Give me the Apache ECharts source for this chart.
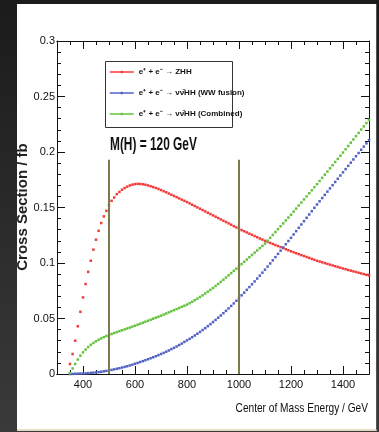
<!DOCTYPE html>
<html>
<head>
<meta charset="utf-8">
<script src="https://cdn.jsdelivr.net/npm/echarts@6/dist/echarts.min.js"></script>
<style>
  html, body { margin: 0; padding: 0; width: 379px; height: 432px; overflow: hidden;
    background: linear-gradient(to bottom, #1b1b1b, #3a3a3a); }
  #card { position: absolute; left: 17px; top: 4px; width: 359px; height: 425px;
    background: #fff; border-right: 1px solid #555; border-bottom: 2px solid #e6dcc4; }
  #chart { position: absolute; left: 0; top: 0; width: 379px; height: 432px; }
</style>
</head>
<body>
<div id="card"></div>
<div id="chart"></div>
<script>
const energy = [
  350, 360, 370, 380, 390, 400, 410, 420, 430, 440,
  450, 460, 470, 480, 490, 500, 510, 520, 530, 540,
  550, 560, 570, 580, 590, 600, 610, 620, 630, 640,
  650, 660, 670, 680, 690, 700, 710, 720, 730, 740,
  750, 760, 770, 780, 790, 800, 810, 820, 830, 840,
  850, 860, 870, 880, 890, 900, 910, 920, 930, 940,
  950, 960, 970, 980, 990, 1000, 1010, 1020, 1030, 1040,
  1050, 1060, 1070, 1080, 1090, 1100, 1110, 1120, 1130, 1140,
  1150, 1160, 1170, 1180, 1190, 1200, 1210, 1220, 1230, 1240,
  1250, 1260, 1270, 1280, 1290, 1300, 1310, 1320, 1330, 1340,
  1350, 1360, 1370, 1380, 1390, 1400, 1410, 1420, 1430, 1440,
  1450, 1460, 1470, 1480, 1490, 1500
]

// e+e- -> ZHH
const zhh = [
  .009, .018, .030, .043, .056, .069, .081, .092, .102, .112,
  .121, .129, .136, .142, .147, .152, .156, .159, .162, .164,
  .166, .1675, .1688, .1698, .1706, .1711, .1713, .1712, .1709, .1705,
  .1699, .1692, .1684, .1676, .1667, .1657, .1647, .1637, .1626, .1615,
  .1604, .1593, .1582, .1571, .1560, .1549, .1537, .1525, .1513, .1501,
  .1489, .1477, .1465, .1453, .1441, .1429, .1417, .1405, .1393, .1381,
  .1369, .1357, .1345, .1332, .1320, .1307, .1296, .1286, .1275, .1264,
  .1254, .1243, .1232, .1221, .1211, .1200, .1191, .1181, .1172, .1162,
  .1153, .1143, .1134, .1124, .1115, .1105, .1097, .1088, .1080, .1071,
  .1063, .1054, .1046, .1037, .1029, .1020, .1013, .1006, .0999, .0992,
  .0985, .0978, .0971, .0964, .0957, .0950, .0944, .0937, .0931, .0925,
  .0919, .0912, .0906, .0900, .0893, .0887
]

// e+e- -> nu nubar HH (WW fusion)
const wwFusion = [
  .0000, .0001, .0002, .0003, .0004, .0005, .0006, .0008, .0010, .0012,
  .0014, .0017, .0020, .0024, .0028, .0032, .0037, .0042, .0047, .0052,
  .0058, .0064, .0070, .0077, .0084, .0092, .0100, .0108, .0116, .0124,
  .0133, .0142, .0151, .0160, .0170, .0180, .0190, .0201, .0212, .0224,
  .0236, .0248, .0261, .0274, .0289, .0303, .0317, .0332, .0347, .0363,
  .0379, .0396, .0413, .0431, .0449, .0468, .0487, .0507, .0527, .0548,
  .0569, .0591, .0613, .0636, .0660, .0685, .0709, .0733, .0758, .0783,
  .0808, .0834, .0860, .0886, .0913, .0940, .0968, .0996, .1024, .1053,
  .1082, .1111, .1140, .1169, .1198, .1227, .1257, .1287, .1317, .1347,
  .1377, .1407, .1437, .1467, .1497, .1527, .1556, .1585, .1614, .1643,
  .1672, .1701, .1730, .1759, .1788, .1817, .1846, .1875, .1904, .1933,
  .1962, .1991, .2020, .2049, .2078, .2107
]

// e+e- -> nu nubar HH (combined)
const combined = [
  .001, .005, .009, .013, .0165, .0195, .022, .0243, .0263, .028,
  .0295, .0309, .0321, .0332, .0342, .0351, .0360, .0369, .0377, .0386,
  .0394, .0402, .0410, .0418, .0427, .0435, .0444, .0453, .0462, .0471,
  .0480, .0489, .0498, .0507, .0516, .0525, .0535, .0545, .0555, .0565,
  .0575, .0585, .0595, .0605, .0615, .0625, .0638, .0651, .0665, .0679,
  .0694, .0709, .0725, .0741, .0758, .0775, .0793, .0811, .0830, .0849,
  .0869, .0889, .0909, .0929, .0949, .0969, .0990, .1011, .1031, .1052,
  .1072, .1093, .1113, .1134, .1154, .1175, .1201, .1227, .1253, .1279,
  .1305, .1331, .1357, .1383, .1409, .1435, .1463, .1490, .1518, .1545,
  .1573, .1600, .1628, .1655, .1683, .1710, .1739, .1767, .1796, .1824,
  .1853, .1881, .1910, .1938, .1967, .1995, .2025, .2054, .2084, .2113,
  .2143, .2172, .2202, .2231, .2261, .2290
]

const xTicks = [400, 600, 800, 1000, 1200, 1400]
const cutEnergies = [500, 1000]
const cutTop = 0.193

const names = [
  'e⁺ + e⁻ → ZHH',
  'e⁺ + e⁻ → νν̄HH (WW fusion)',
  'e⁺ + e⁻ → νν̄HH (Combined)'
]

const sans = '"Liberation Sans", Arial, sans-serif'
const axisColor = '#111'

function pairs(ys) {
  return energy.map((e, i) => [e, ys[i]])
}

const chart = echarts.init(document.getElementById('chart'))

// ticks point into the frame: drawn outward with a negative length
const tickLine = { color: axisColor, width: 1 }
const majorTick = { show: true, inside: false, length: -8, lineStyle: tickLine }
const minorLen = -4

const xBase = {
  type: 'value', min: 300, max: 1500,
  splitLine: { show: false },
  axisLine: { show: true, onZero: false, lineStyle: { color: axisColor, width: 1 } }
}
const yBase = {
  type: 'value', min: 0, max: 0.3, interval: 0.05,
  splitLine: { show: false },
  axisLine: { show: true, onZero: false, lineStyle: { color: axisColor, width: 1 } },
  axisTick: majorTick,
  minorTick: { show: true, splitNumber: 5, length: minorLen, lineStyle: tickLine }
}

chart.setOption({
  animation: false,
  grid: { left: 57, top: 41, width: 312, height: 333 },
  xAxis: [
    {
      ...xBase, position: 'bottom', interval: 100,
      axisTick: { ...majorTick, customValues: xTicks },
      axisLabel: { show: true, customValues: xTicks, margin: 5, color: '#111', fontSize: 11, fontFamily: sans,
        formatter: v => String(v) }
    },
    {
      ...xBase, position: 'bottom', interval: 50,
      axisTick: { ...majorTick, length: minorLen },
      axisLabel: { show: false }
    },
    {
      ...xBase, position: 'top', interval: 100,
      axisTick: { ...majorTick, customValues: xTicks },
      axisLabel: { show: false }
    },
    {
      ...xBase, position: 'top', interval: 50,
      axisTick: { ...majorTick, length: minorLen },
      axisLabel: { show: false }
    }
  ],
  yAxis: [
    { ...yBase, position: 'left',
      axisLabel: { margin: 2, color: '#111', fontSize: 11, fontFamily: sans } },
    { ...yBase, position: 'right', axisLabel: { show: false } }
  ],
  legend: {
    orient: 'vertical', left: 109, top: 68, padding: 0,
    itemWidth: 24, itemHeight: 3, itemGap: 13,
    data: names,
    lineStyle: { width: 1.5 },
    textStyle: { fontSize: 8, fontWeight: 'bold', fontFamily: sans, color: '#111' }
  },
  graphic: [
    { type: 'rect', z: 0, shape: { x: 105.5, y: 61.5, width: 127, height: 66 },
      style: { fill: '#fff', stroke: '#333', lineWidth: 1 } },
    { type: 'text', x: 110, y: 145, scaleX: 0.66, z: 10,
      style: { text: 'M(H) = 120 GeV', font: 'bold 18px ' + sans, fill: '#111', textAlign: 'left', textVerticalAlign: 'middle' } },
    { type: 'text', x: 368, y: 408, scaleX: 0.78, z: 10,
      style: { text: 'Center of Mass Energy / GeV', font: '13px ' + sans, fill: '#111', textAlign: 'right', textVerticalAlign: 'middle' } },
    { type: 'text', x: 23, y: 207, rotation: Math.PI / 2, z: 10,
      style: { text: 'Cross Section / fb', font: 'bold 15px ' + sans, fill: '#222', textAlign: 'center', textVerticalAlign: 'middle' } }
  ],
  series: [
    {
      name: names[0], type: 'line', data: pairs(zhh),
      symbol: 'rect', symbolSize: 2.5, showSymbol: true, silent: true,
      lineStyle: { width: 0 }, itemStyle: { color: '#f23c3c' },
      markLine: {
        silent: true, symbol: 'none', label: { show: false },
        lineStyle: { color: '#7b7a48', width: 2, type: 'solid' },
        data: cutEnergies.map(e => [{ coord: [e, 0] }, { coord: [e, cutTop] }])
      }
    },
    {
      name: names[1], type: 'line', data: pairs(wwFusion),
      symbol: 'rect', symbolSize: 2.5, showSymbol: true, silent: true,
      lineStyle: { width: 0 }, itemStyle: { color: '#5262c2' }
    },
    {
      name: names[2], type: 'line', data: pairs(combined),
      symbol: 'rect', symbolSize: 2.5, showSymbol: true, silent: true,
      lineStyle: { width: 0 }, itemStyle: { color: '#66c23e' }
    }
  ]
})
</script>
</body>
</html>
